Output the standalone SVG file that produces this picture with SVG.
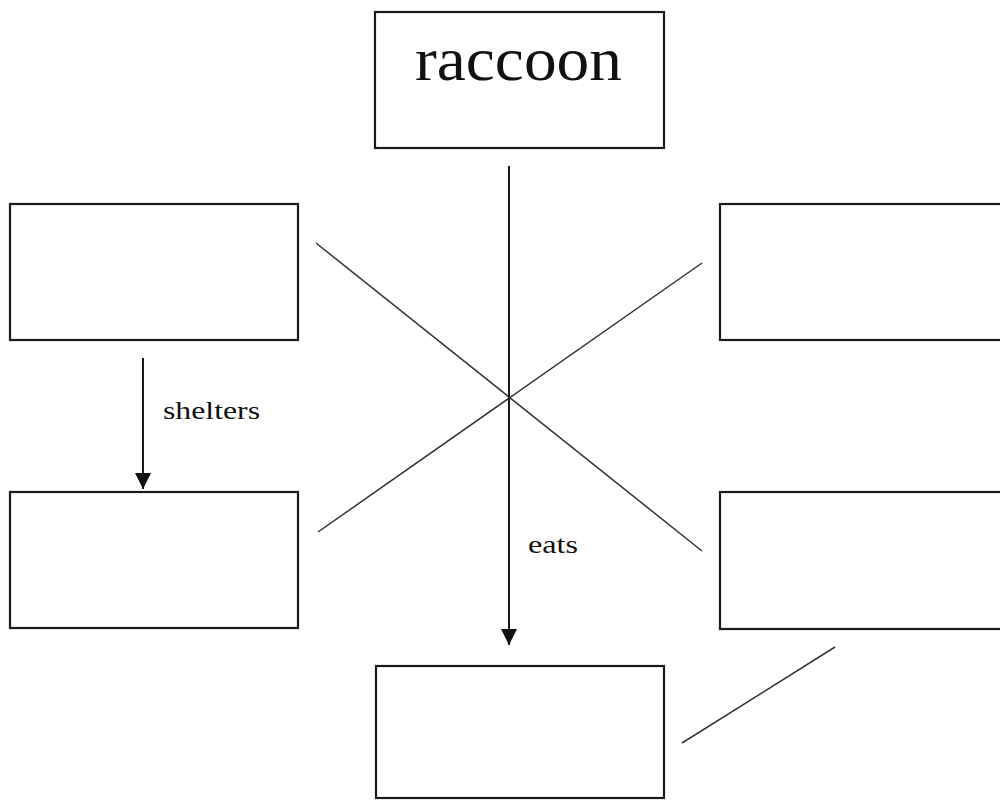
<svg xmlns="http://www.w3.org/2000/svg" width="1000" height="800" viewBox="0 0 1000 800">
<style>
.box{fill:#fff;stroke:#1a1a1a;stroke-width:2.2}
.ln{stroke:#1a1a1a;stroke-width:2;fill:none}
.thin{stroke:#333;stroke-width:1.5;fill:none}
.lbl{font-family:"Liberation Serif","Times New Roman",serif;fill:#111}
</style>
<defs>
<marker id="ah2" viewBox="0 0 10 10" refX="10" refY="5" markerWidth="18" markerHeight="16" markerUnits="userSpaceOnUse" orient="auto">
<path d="M0,0 L10,5 L0,10 Z" fill="#111"/>
</marker>
</defs>
<rect width="1000" height="800" fill="#fff"/>
<g id="connectors">
<line class="thin" x1="316" y1="243" x2="702" y2="551"/>
<line class="thin" x1="318" y1="532" x2="702" y2="263"/>
<line class="thin" x1="682" y1="743" x2="835" y2="647"/>
<line class="ln" x1="509" y1="166" x2="509" y2="645" marker-end="url(#ah2)"/>
<line class="ln" x1="143" y1="358" x2="143" y2="489" marker-end="url(#ah2)"/>
<text class="lbl" x="163" y="419" font-size="25" textLength="97" lengthAdjust="spacingAndGlyphs">shelters</text>
<text class="lbl" x="528" y="553" font-size="25" textLength="50" lengthAdjust="spacingAndGlyphs">eats</text>
</g>
<g id="raccoon">
<rect class="box" x="375" y="12" width="289" height="136"/>
<text class="lbl" x="415" y="80" font-size="62" textLength="207" lengthAdjust="spacingAndGlyphs">raccoon</text>
</g>
<g id="left-top"><rect class="box" x="10" y="204" width="288" height="136"/></g>
<g id="right-top"><rect class="box" x="720" y="204" width="290" height="136"/></g>
<g id="left-bottom"><rect class="box" x="10" y="492" width="288" height="136"/></g>
<g id="right-bottom"><rect class="box" x="720" y="492" width="290" height="137"/></g>
<g id="bottom"><rect class="box" x="376" y="666" width="288" height="132"/></g>
</svg>
